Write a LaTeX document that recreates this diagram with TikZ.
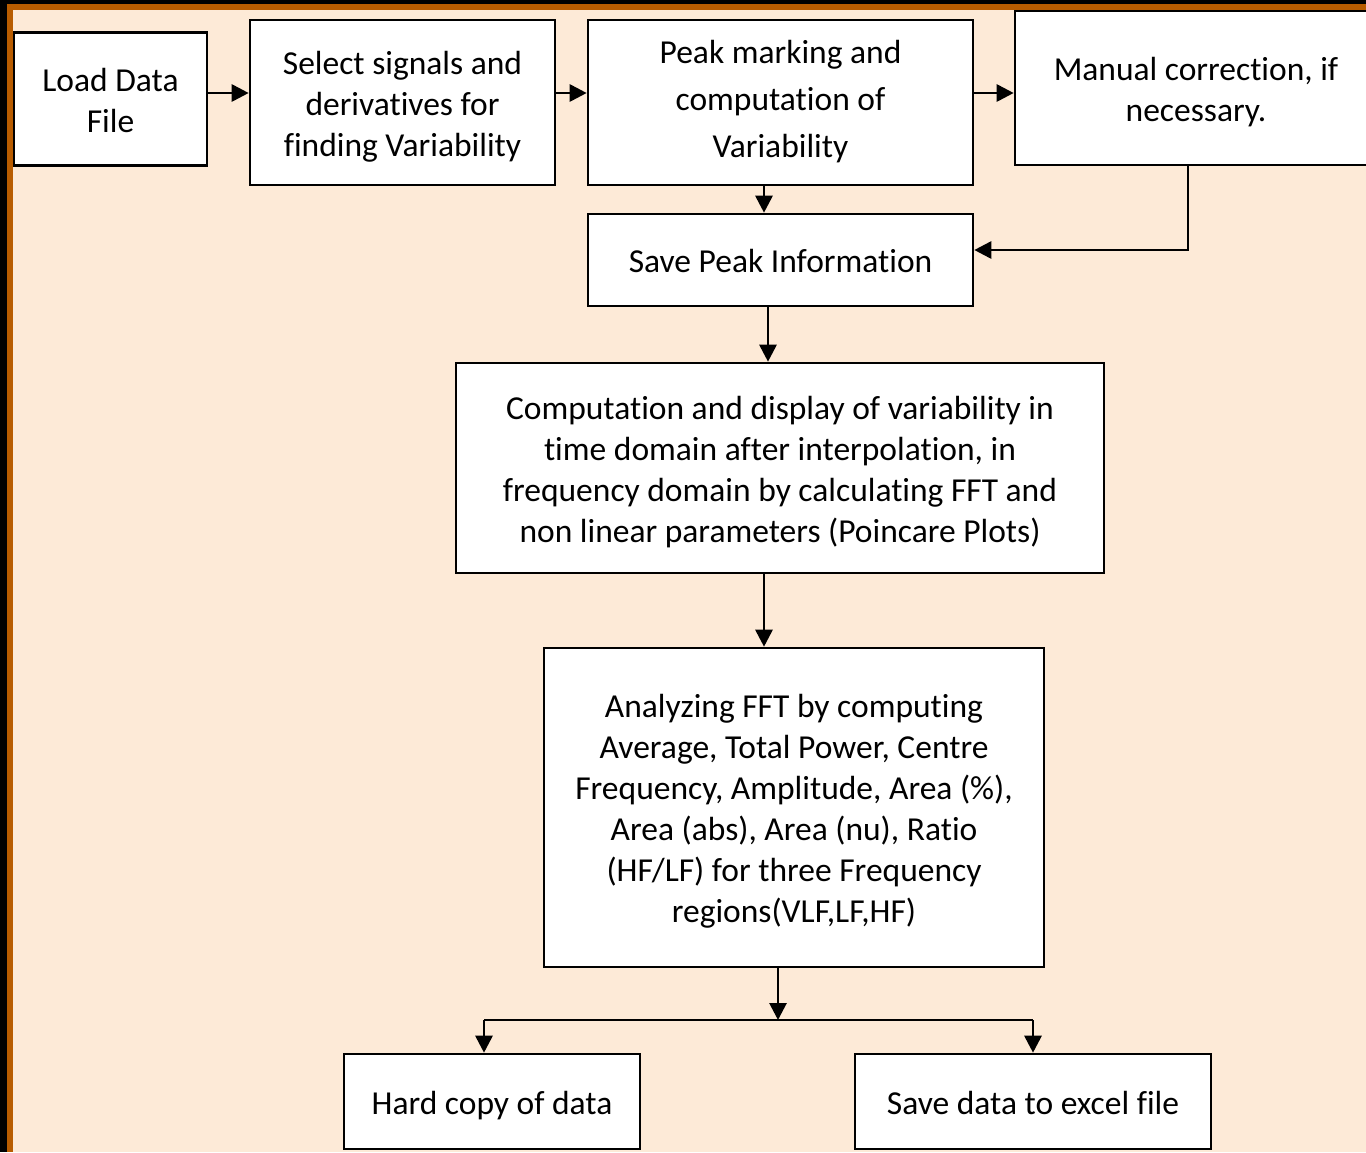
\documentclass[tikz,border=0pt]{standalone}
\usepackage{fontspec}
\setmainfont[Ligatures=NoCommon]{Carlito}
\usetikzlibrary{arrows.meta}
\definecolor{peach}{RGB}{253,234,215}
\definecolor{frame}{RGB}{184,92,0}
\newcommand{\linestrut}{\rule[-7pt]{0pt}{39pt}}
\tikzset{
  box/.style={draw=black, line width=2.6pt, fill=white, align=center, inner sep=0pt,
    font=\fontsize{33.5}{41}\selectfont, execute at end node={\linestrut}},
  conn/.style={line width=2.8pt, -{Triangle[length=17pt,width=17pt]}},
  plain/.style={line width=2.8pt},
}
\begin{document}
\begin{tikzpicture}[x=1pt,y=-1pt]
\useasboundingbox (0,0) rectangle (1366,1152);
\clip (0,0) rectangle (1366,1152);
\fill[black] (0,0) rectangle (1366,1152);
\fill[frame] (7,4) rectangle (1366,1152);
\fill[peach] (13,10) rectangle (1366,1152);

\node[box, minimum width=193pt, minimum height=133pt] (load) at (110.5,99) {\linestrut Load Data\\File};
\node[box, minimum width=305pt, minimum height=165pt] (sel) at (402.5,102.5) {\linestrut Select signals and\\derivatives for\\finding Variability};
\node[box, minimum width=385pt, minimum height=165pt, font=\fontsize{33.5}{47}\selectfont,
  execute at end node={}] (peak) at (780.5,102.5) {Peak marking and\\computation of\\Variability};
\node[box, minimum width=362pt, minimum height=154pt] (man) at (1196,88) {\linestrut Manual correction, if\\necessary.};
\node[box, minimum width=385pt, minimum height=92pt] (save) at (780.5,260) {\linestrut Save Peak Information};
\node[box, minimum width=648pt, minimum height=210pt] (comp) at (780,468) {\linestrut Computation and display of variability in\\time domain after interpolation, in\\frequency domain by calculating FFT and\\non linear parameters (Poincare Plots)};
\node[box, minimum width=500pt, minimum height=319pt] (ana) at (794,807.5) {\linestrut Analyzing FFT by computing\\Average, Total Power, Centre\\Frequency, Amplitude, Area (\%),\\Area (abs), Area (nu), Ratio\\(HF/LF) for three Frequency\\regions(VLF,LF,HF)};
\node[box, minimum width=296pt, minimum height=95pt] (hard) at (492,1101.5) {\linestrut Hard copy of data};
\node[box, minimum width=356pt, minimum height=95pt] (xls) at (1033,1101.5) {\linestrut Save data to excel file};

\draw[conn] (load.east |- 0,93) -- (sel.west |- 0,93);
\draw[conn] (sel.east |- 0,93) -- (peak.west |- 0,93);
\draw[conn] (peak.east |- 0,93) -- (man.west |- 0,93);
\draw[conn] (peak.south -| 764,0) -- (save.north -| 764,0);
\draw[conn] (man.south -| 1188,0) |- (save.east |- 0,250);
\draw[conn] (save.south -| 768,0) -- (comp.north -| 768,0);
\draw[conn] (comp.south -| 764,0) -- (ana.north -| 764,0);
\coordinate (split) at (778,1020);
\draw[conn] (ana.south -| split) -- (split);
\draw[plain] (484,1020) -- (1033,1020);
\draw[conn] (484,1020) -- (hard.north -| 484,0);
\draw[conn] (1033,1020) -- (xls.north -| 1033,0);
\end{tikzpicture}
\end{document}
